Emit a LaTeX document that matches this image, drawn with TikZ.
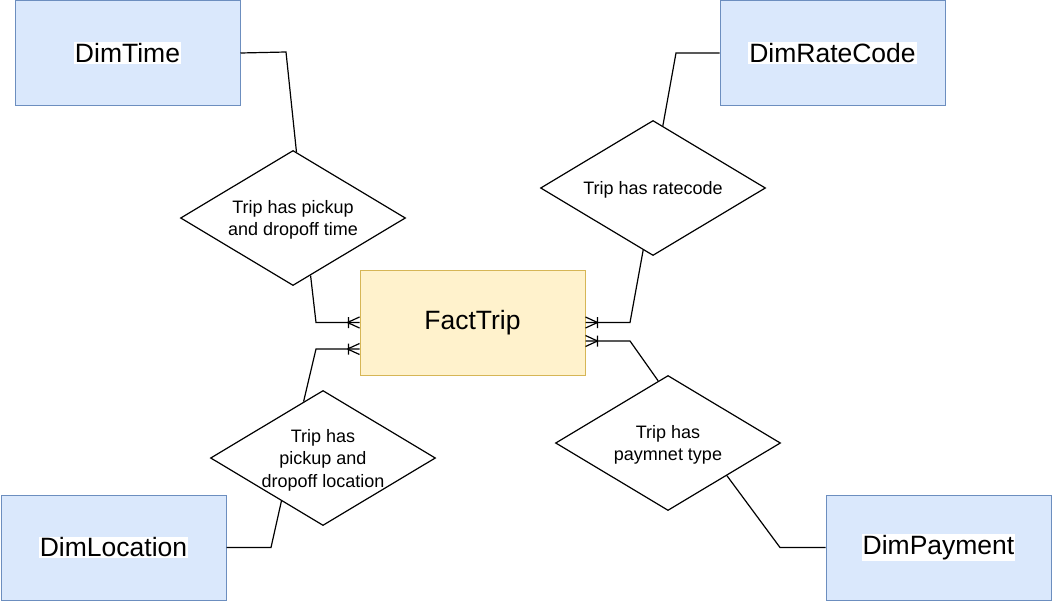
\documentclass[tikz,border=0pt]{standalone}
\usepackage{fontspec}
\setmainfont{Liberation Sans}
\usetikzlibrary{shapes.geometric,calc}
\definecolor{dimfill}{HTML}{DAE8FC}
\definecolor{dimline}{HTML}{6C8EBF}
\definecolor{factfill}{HTML}{FFF2CC}
\definecolor{factline}{HTML}{D6B656}
\begin{document}
\begin{tikzpicture}[x=1pt,y=-1pt,
  ent/.style={draw=dimline,fill=dimfill,line width=1pt,minimum width=225pt,minimum height=105pt,inner sep=0pt},
  fact/.style={draw=factline,fill=factfill,line width=1pt,minimum width=225pt,minimum height=105pt,inner sep=0pt},
  etext/.style={fill=white,inner sep=1pt,font=\fontsize{26.5}{30}\selectfont},
  dia/.style={draw,diamond,line width=1.2pt,minimum width=225pt,minimum height=135pt,inner sep=0pt},
  dtext/.style={align=center,inner sep=1pt,yshift=-2pt,font=\fontsize{18}{22.5}\selectfont},
  conn/.style={draw,line width=1.2pt},
  crowL/.pic={\draw[line width=1.2pt] (-12,0) -- (0,-5.5) (-12,0) -- (0,5.5) (-11,-5.5) -- (-11,5.5);},
  crowR/.pic={\draw[line width=1.2pt] (12,0) -- (0,-5.5) (12,0) -- (0,5.5) (12,-5.5) -- (12,5.5);}
]
\useasboundingbox (0,0) rectangle (1052,602);
% entities
\node[ent] (dt) at (127.5,53) {};
\node[etext] at (dt) {DimTime};
\node[ent] (drc) at (832.5,53) {};
\node[etext] at (drc) {DimRateCode};
\node[fact] (ft) at (472.5,322.5) {};
\node[etext,fill=none] at (ft) {FactTrip};
\node[ent] (dl) at (113.5,547.5) {};
\node[etext] at (dl) {DimLocation};
\node[ent] (dp) at (938.5,547.5) {};
\node[etext] at (dp) {DimPayment};
% relationships
\node[dia] (d1) at (293,218) {};
\node[dtext] at (d1) {Trip has pickup\\and dropoff time};
\node[dia] (d2) at (653,188) {};
\node[dtext] at (d2) {Trip has ratecode};
\node[dia] (d3) at (323,458) {};
\node[dtext] at (d3) {Trip has\\pickup and\\dropoff location};
\node[dia] (d4) at (668,443) {};
\node[dtext] at (d4) {Trip has\\paymnet type};
% attach points on FactTrip
\coordinate (ftL1) at (ft.west);
\coordinate (ftL2) at ($(ft.west)+(0,26.5)$);
\coordinate (ftR1) at (ft.east);
\coordinate (ftR2) at ($(ft.east)+(0,18.5)$);
% connectors
\draw[conn] (dt.east) -- (286,52) -- (d1.87);
\draw[conn] (d1.-73) -- (316,322.5) -- (ftL1);
\pic at (ftL1) {crowL};
\draw[conn] (ftL2) -- (316,349) -- (d3.109);
\pic at (ftL2) {crowL};
\draw[conn] (d3.-134) -- (271,547.5) -- (dl.east);
\draw[conn] (ftR1) -- (630,322.5) -- (d2.-99);
\pic at (ftR1) {crowR};
\draw[conn] (d2.81) -- (676,53) -- (drc.west);
\draw[conn] (ftR2) -- (630,341) -- (d4.99);
\pic at (ftR2) {crowR};
\draw[conn] (d4.-29) -- (780,547.5) -- (dp.west);
\end{tikzpicture}
\end{document}
